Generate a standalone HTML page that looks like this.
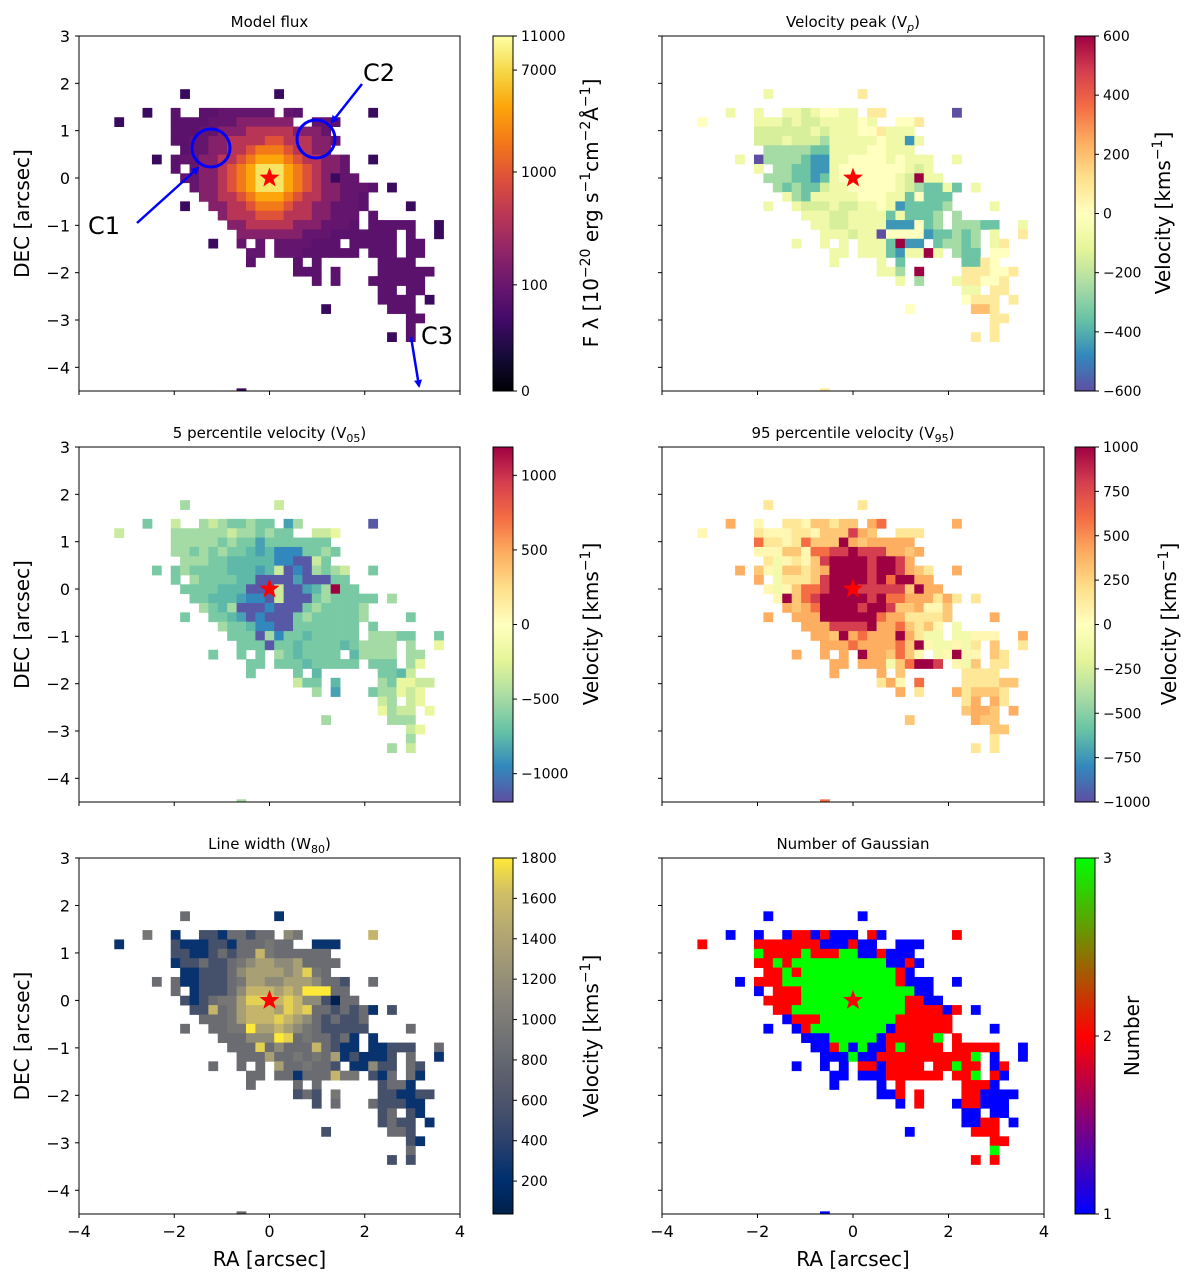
<!DOCTYPE html>
<html><head><meta charset="utf-8"><title>Emission line maps</title>
<style>
html,body{margin:0;padding:0;background:#fff;}
svg{display:block;font-family:"DejaVu Sans","Liberation Sans",sans-serif;}
</style></head>
<body>
<svg id="fig" width="1200" height="1282" viewBox="0 0 1200 1282" xmlns="http://www.w3.org/2000/svg"></svg>
<script>
// ---------- data ----------
const xTicks=[-4,-2,0,2,4];
const yTicks=[3,2,1,0,-1,-2,-3,-4];
const PIX=0.1975; // arcsec per spaxel
const FLUX_LEVELS=[0,15,55,80,160,400,900,1800,3500,8000];
const VP_LEVELS=[-600,-450,-350,-250,-150,-70,0,80,200,600];
const V05_LEVELS=[-1150,-950,-850,-750,-650,-500,-350,-200,0,1200];
const V95_LEVELS=[0,0,-100,50,150,300,400,600,800,1000];
const W80_LEVELS=[50,250,550,850,950,1150,1350,1550,1700,1800];
const NG_LEVELS=[0,1,2,3];
const fluxTicks=[0,100,1000,7000,11000];
const vpTicks=[600,400,200,0,-200,-400,-600];
const v05Ticks=[1000,500,0,-500,-1000];
const v95Ticks=[1000,750,500,250,0,-250,-500,-750,-1000];
const w80Ticks=[1800,1600,1400,1200,1000,800,600,400,200];
const ngTicks=[3,2,1];
// rows from DEC row +9 down to -23, columns RA index -16..18
const FLUX_GRID=[
".......1.........1.................","",
"...1..2..22333333.32.......1.......",
"1.....2222333444444..332...........",
"......22233444555554443............",
"......223344555566555443...........",
".......2334455677765544............",
"....1.2334455678887655443..1.......",
"......2.34456789998765443..........",
".......3344567899987654133.........",
"........34456789998765443332.1.....",
".........445567888765544332........",
".......1..44556777655443332....1...",
"...........455566655544333.2.......",
"............44555554443332.22222..1",
".............44444443332222222.2..1",
"..........1..3.3.3333222.22222.22..",
"..............33.333222222.222.22..",
"..............2....2.2......2222...",
"...................222.2....222222.",
".....................2.2...222222..",
"............................22.22..",
"............................2222.1.",
"......................1......222...",
"...............................22..",
"...............................2...",
".............................1.2...","","","","","",
".............1....................."];
const VP_GRID=[
".......5.........7.................","",
"...5..5..55456655.77.......0.......",
"6.....5554544555565..667...........",
"......44444454555667555............",
"......444544435555565515...........",
".......3333322555566555............",
"....5.0333321155666656555..5.......",
"......5.33221156666666545..........",
".......3332212566666654955.........",
"........32322455666665432252.5.....",
".........532555556665526222........",
".......5..54445445565122223....5...",
"...........555445555252223.3.......",
"............55445555111623.33322..5",
".............55545506666122323.5..7",
"..........5..5.5.5552911.23323.57..",
"..............55.555215595.322.66..",
"..............5....5.2......2276...",
"...................553.9....777667.",
".....................5.3...577667..",
"............................55.77..",
"............................6777.7.",
"......................6......887...",
"...............................77..",
"...............................7...",
".............................7.7...","","","","","",
".............7....................."];
const V05_GRID=[
".......5.........6.................","",
"...4..6..56544544.25.......0.......",
"6.....5555556554544..667...........",
"......55555454424444444............",
"......554545443231114454...........",
".......5554433333110064............",
"....4.4544443332360105456..4.......",
"......4.54444330000200044..........",
".......4444333000600235944.........",
"........44333211060004544444.5.....",
".........543500010004544445........",
".......4..44320100045444445....4...",
"...........544311004444444.4.......",
"............44405144344444.55544..4",
".............44404434444345555.5..7",
"..........4..4.4.5434444.35555.55..",
"..............44.444344444.444.57..",
"..............4....4.3......4436...",
"...................644.3....547766.",
".....................5.2...455767..",
"............................65.67..",
"............................7566.7.",
"......................5......555...",
"...............................67..",
"...............................5...",
".............................5.6...","","","","","",
".............5....................."];
const V95_GRID=[
".......4.........4.................","",
"...6..3..44355455.67.......6.......",
"3.....4333443555865..444...........",
"......74434755596566666............",
"......333553778898886656...........",
".......4234358999989986............",
"....6.5325545699998998654..6.......",
"......6.24445899998979966..........",
".......3235778999888885966.........",
"........39578999998977666464.4.....",
".........656799998998556335........",
".......6..66699999976644445....6...",
"...........666888896675453.2.......",
"............66596766696422.22333..6",
".............66676666759322324.5..4",
"..........6..6.6.9665753.23933.54..",
"..............66.666257998.325.44..",
"..............6....6.5......4444...",
"...................463.7....444455.",
".....................6.4...645554..",
"............................46.64..",
"............................5665.6.",
"......................5......655...",
"...............................55..",
"...............................4...",
".............................4.4...","","","","","",
".............7....................."];
const W80_GRID=[
".......3.........1.................","",
"...4..1..22133233.54.......7.......",
"1.....2111221333433..111...........",
"......22112323374333333............",
"......122322345665563333...........",
".......1122235666656843............",
"....3.3112223466556665332..3.......",
"......3.12223577767699933..........",
".......2123446888787552033.........",
"........22734677768783323231.2.....",
".........333467778765323223........",
".......3..33449667654322222....3...",
"...........333555983433231.1.......",
"............33383533373211.11222..3",
".............33363343436121112.3..1",
"..........3..3.3.6334332.11522.32..",
"..............33.331333744.213.31..",
"..............3....3.3......2331...",
"...................232.4....221122.",
".....................2.3...322211..",
"............................23.21..",
"............................2322.1.",
"......................2......332...",
"...............................21..",
"...............................3...",
".............................2.2...","","","","","",
".............3....................."];
const NG_GRID=[
".......1.........1.................","",
"...1..1..12212111.21.......2.......",
"2.....2222222111211..111...........",
"......32222322233112111............",
"......223233333333331121...........",
".......2232333333333321............",
"....1.2223333333333332111..1.......",
"......1.22233333333333311..........",
".......2222333333333332211.........",
"........22333333333333222212.1.....",
".........122233333333222222........",
".......1..12333333331222222....1...",
"...........111333331222223.2.......",
"............11231311232222.22222..1",
".............11131122222222223.1..1",
"..........1..1.1.2212222.22322.12..",
"..............11.111222222.223.21..",
"..............1....1.2......2221...",
"...................112.2....221111.",
".....................1.2...122111..",
"............................11.11..",
"............................1122.1.",
"......................1......222...",
"...............................22..",
"...............................3...",
".............................2.2...","","","","","",
".............1....................."];

// ---------- colormaps ----------
const INFERNO=[[0,'#000004'],[0.1,'#160b39'],[0.2,'#420a68'],[0.3,'#6a176e'],[0.4,'#932667'],[0.5,'#bc3754'],[0.6,'#dd513a'],[0.7,'#f37819'],[0.8,'#fca50a'],[0.9,'#f6d746'],[1,'#fcffa4']];
const SPECTRAL_R=[[0,'#5e4fa2'],[0.1,'#3288bd'],[0.2,'#66c2a5'],[0.3,'#abdda4'],[0.4,'#e6f598'],[0.5,'#ffffbf'],[0.6,'#fee08b'],[0.7,'#fdae61'],[0.8,'#f46d43'],[0.9,'#d53e4f'],[1,'#9e0142']];
const CIVIDIS=[[0,'#00204c'],[0.1,'#00306f'],[0.2,'#2a406c'],[0.3,'#48526b'],[0.4,'#5e626e'],[0.5,'#727374'],[0.6,'#878479'],[0.7,'#9e9677'],[0.8,'#b6a971'],[0.9,'#d0be67'],[1,'#fee838']];
const BRG=[[0,'#0000ff'],[0.5,'#ff0000'],[1,'#00ff00']];
function hex2rgb(h){return [parseInt(h.substr(1,2),16),parseInt(h.substr(3,2),16),parseInt(h.substr(5,2),16)];}
function cmap(stops,t){
  t=Math.max(0,Math.min(1,t));
  for(let k=1;k<stops.length;k++){
    if(t<=stops[k][0]){
      const a=stops[k-1],b=stops[k];const f=(t-a[0])/(b[0]-a[0]);
      const ca=hex2rgb(a[1]),cb=hex2rgb(b[1]);
      return 'rgb('+ca.map((v,q)=>Math.round(v+(cb[q]-v)*f)).join(',')+')';
    }
  }
  return stops[stops.length-1][1];
}
const FLUX_FR=[0,0.299,0.617,0.904,1];
function fluxFrac(v){
  const L=x=>Math.log10(x+1);const lv=L(v);
  for(let k=1;k<fluxTicks.length;k++){
    if(lv<=L(fluxTicks[k])){return FLUX_FR[k-1]+(lv-L(fluxTicks[k-1]))/(L(fluxTicks[k])-L(fluxTicks[k-1]))*(FLUX_FR[k]-FLUX_FR[k-1]);}
  }
  return 1;
}

const NS='http://www.w3.org/2000/svg';
const svg=document.getElementById('fig');
function mk(tag,attrs,parent){const e=document.createElementNS(NS,tag);for(const k in attrs)e.setAttribute(k,attrs[k]);(parent||svg).appendChild(e);return e;}
const defs=mk('defs',{});

const panels=[
 {key:'flux',title:'Model flux',grid:FLUX_GRID,levels:FLUX_LEVELS,stops:INFERNO,frac:v=>fluxFrac(v),x0:79,x1:460,y0:36,y1:391,cbx:493,ticks:fluxTicks,tickFrac:v=>fluxFrac(v),left:true,bottom:false},
 {key:'vp',title:'Velocity peak (V',sub:'p',subItal:true,grid:VP_GRID,levels:VP_LEVELS,stops:SPECTRAL_R,frac:v=>(v+600)/1200,x0:662,x1:1044,y0:36,y1:391,cbx:1075,ticks:vpTicks,tickFrac:v=>(v+600)/1200,left:false,bottom:false},
 {key:'v05',title:'5 percentile velocity (V',sub:'05',grid:V05_GRID,levels:V05_LEVELS,stops:SPECTRAL_R,frac:v=>(v+1190)/2380,x0:79,x1:460,y0:447,y1:802,cbx:493,ticks:v05Ticks,tickFrac:v=>(v+1190)/2380,left:true,bottom:false},
 {key:'v95',title:'95 percentile velocity (V',sub:'95',grid:V95_GRID,levels:V95_LEVELS,stops:SPECTRAL_R,frac:v=>(v+1000)/2000,x0:662,x1:1044,y0:447,y1:802,cbx:1075,ticks:v95Ticks,tickFrac:v=>(v+1000)/2000,left:false,bottom:false},
 {key:'w80',title:'Line width (W',sub:'80',grid:W80_GRID,levels:W80_LEVELS,stops:CIVIDIS,frac:v=>(v-37)/1763,x0:79,x1:460,y0:858,y1:1214,cbx:493,ticks:w80Ticks,tickFrac:v=>(v-37)/1763,left:true,bottom:true},
 {key:'ngauss',title:'Number of Gaussian',grid:NG_GRID,levels:NG_LEVELS,stops:BRG,frac:v=>(v-1)/2,x0:662,x1:1044,y0:858,y1:1214,cbx:1075,ticks:ngTicks,tickFrac:v=>(v-1)/2,left:false,bottom:true}
];

panels.forEach(p=>{
  const sx=(p.x1-p.x0)/8, sy=(p.y1-p.y0)/7.5;
  const X=v=>p.x0+(v+4)*sx, Y=v=>p.y0+(3-v)*sy;
  const g=mk('g',{});
  
  
  const cp=mk('clipPath',{id:'clip-'+p.key},defs);
  mk('rect',{x:p.x0,y:p.y0,width:p.x1-p.x0,height:p.y1-p.y0},cp);
  const cells=mk('g',{'clip-path':'url(#clip-'+p.key+')'},g);
  
  
  p.grid.forEach((row,r)=>{
    const dec=(9-r)*PIX;
    for(let i=0;i<row.length;i++){
      const ch=row[i];
      if(ch<'0'||ch>'9')continue;
      const val=p.levels[+ch];
      const ra=(i-16)*PIX;
      const c=cmap(p.stops,p.frac(val));
      const x=X(ra-PIX/2), y=Y(dec+PIX/2);
      const rc=mk('rect',{x:x.toFixed(2),y:y.toFixed(2),width:(PIX*sx+0.4).toFixed(2),height:(PIX*sy+0.4).toFixed(2),fill:c},cells);
      
      
    }
  });
  const s=[];for(let k=0;k<10;k++){const a=-Math.PI/2+k*Math.PI/5;const rr=k%2?4.3:10.5;s.push((X(0)+rr*Math.cos(a)).toFixed(2)+','+(Y(0)+rr*Math.sin(a)).toFixed(2));}
  const st=mk('polygon',{points:s.join(' '),fill:'#ff0000'},g);
  
  
  const fr=mk('rect',{x:p.x0,y:p.y0,width:p.x1-p.x0,height:p.y1-p.y0,fill:'none',stroke:'#000','stroke-width':1},g);
  
  
  xTicks.forEach(t=>{
    const tk=mk('line',{x1:X(t),x2:X(t),y1:p.y1,y2:p.y1+4,stroke:'#000','stroke-width':1},g);
    
    
    if(p.bottom){
      const tl=mk('text',{x:X(t),y:p.y1+23,'font-size':16,'text-anchor':'middle'},g);
      tl.textContent=(t<0?'\u2212':'')+Math.abs(t);
      
      
    }
  });
  yTicks.forEach(t=>{
    const tk=mk('line',{x1:p.x0-4,x2:p.x0,y1:Y(t),y2:Y(t),stroke:'#000','stroke-width':1},g);
    
    
    if(p.left){
      const tl=mk('text',{x:p.x0-9,y:Y(t)+6,'font-size':16,'text-anchor':'end'},g);
      tl.textContent=(t<0?'\u2212':'')+Math.abs(t);
      
      
    }
  });
  if(p.left){
    const yl=mk('text',{x:0,y:0,'font-size':20,'text-anchor':'middle',transform:'translate(29,'+((p.y0+p.y1)/2)+') rotate(-90)'},g);
    yl.textContent='DEC [arcsec]';
    
    
  }
  if(p.bottom){
    const xl=mk('text',{x:(p.x0+p.x1)/2,y:1266,'font-size':20,'text-anchor':'middle'},g);
    xl.textContent='RA [arcsec]';
    
    
  }
  const tt=mk('text',{x:(p.x0+p.x1)/2,y:p.y0-9,'font-size':15,'text-anchor':'middle'},g);
  tt.appendChild(document.createTextNode(p.title));
  if(p.sub){
    const ts=mk('tspan',{'font-size':11,dy:4},tt);ts.textContent=p.sub;
    if(p.subItal)ts.setAttribute('font-style','italic');
    const tc=mk('tspan',{'font-size':15,dy:-4},tt);tc.textContent=')';
  }
  
  
  const gid='grad-'+p.key;
  const lg=mk('linearGradient',{id:gid,x1:0,y1:1,x2:0,y2:0},defs);
  for(let k=0;k<=40;k++){mk('stop',{offset:(k/40),'stop-color':cmap(p.stops,k/40)},lg);}
  const cbw=20;
  const cb=mk('rect',{x:p.cbx,y:p.y0,width:cbw,height:p.y1-p.y0,fill:'url(#'+gid+')',stroke:'#000','stroke-width':1},g);
  
  
  p.ticks.forEach(t=>{
    const yy=p.y1-p.tickFrac(t)*(p.y1-p.y0);
    const tk=mk('line',{x1:p.cbx+cbw,x2:p.cbx+cbw+4,y1:yy,y2:yy,stroke:'#000','stroke-width':1},g);
    
    
    const tl=mk('text',{x:p.cbx+cbw+8,y:yy+5,'font-size':14},g);
    tl.textContent=(t<0?'\u2212':'')+Math.abs(t);
    
    
  });
});

function vlabel(x,y,name,build){
  const t=mk('text',{x:0,y:0,'font-size':20,'text-anchor':'middle',transform:'translate('+x+','+y+') rotate(-90)'});
  build(t);
  
  
}
function velLabel(t){
  t.appendChild(document.createTextNode('Velocity [kms'));
  const s=mk('tspan',{'font-size':14,dy:-8},t);s.textContent='\u22121';
  const e=mk('tspan',{'font-size':20,dy:8},t);e.textContent=']';
}
vlabel(598,213,'flux-colorbar-label',t=>{
  t.appendChild(document.createTextNode('F \u03bb [10'));
  let s=mk('tspan',{'font-size':14,dy:-8},t);s.textContent='\u221220';
  s=mk('tspan',{'font-size':20,dy:8},t);s.textContent=' erg s';
  s=mk('tspan',{'font-size':14,dy:-8},t);s.textContent='\u22121';
  s=mk('tspan',{'font-size':20,dy:8},t);s.textContent='cm';
  s=mk('tspan',{'font-size':14,dy:-8},t);s.textContent='\u22122';
  s=mk('tspan',{'font-size':20,dy:8},t);s.textContent='\u00c5';
  s=mk('tspan',{'font-size':14,dy:-8},t);s.textContent='\u22121';
  s=mk('tspan',{'font-size':20,dy:8},t);s.textContent=']';
});
vlabel(1170,213,'vp-colorbar-label',velLabel);
vlabel(598,624,'v05-colorbar-label',velLabel);
vlabel(1176,624,'v95-colorbar-label',velLabel);
vlabel(598,1036,'w80-colorbar-label',velLabel);
vlabel(1139,1036,'ngauss-colorbar-label',t=>{t.textContent='Number';});

const ann=mk('g',{});


mk('marker',{id:'ah',markerWidth:8,markerHeight:8,refX:6,refY:4,orient:'auto',markerUnits:'userSpaceOnUse'},defs);
const mkr=defs.lastChild;
mk('path',{d:'M0,0 L8,4 L0,8 z',fill:'#0000ff'},mkr);
[[211,148,'c1-circle'],[316,139,'c2-circle']].forEach(c=>{
  const e=mk('circle',{cx:c[0],cy:c[1],r:19,fill:'none',stroke:'#0000ff','stroke-width':3},ann);
  
  
});
[[137,223,198,168,'c1-arrow'],[362,84,332,122,'c2-arrow'],[411,337,419,386,'c3-arrow']].forEach(a=>{
  const e=mk('line',{x1:a[0],y1:a[1],x2:a[2],y2:a[3],stroke:'#0000ff','stroke-width':2.5,'marker-end':'url(#ah)'},ann);
  
  
});
[[88,234,'C1','c1-label'],[363,81,'C2','c2-label'],[421,344,'C3','c3-label']].forEach(l=>{
  const e=mk('text',{x:l[0],y:l[1],'font-size':24},ann);
  e.textContent=l[2];
  
  
});
</script>
</body></html>
